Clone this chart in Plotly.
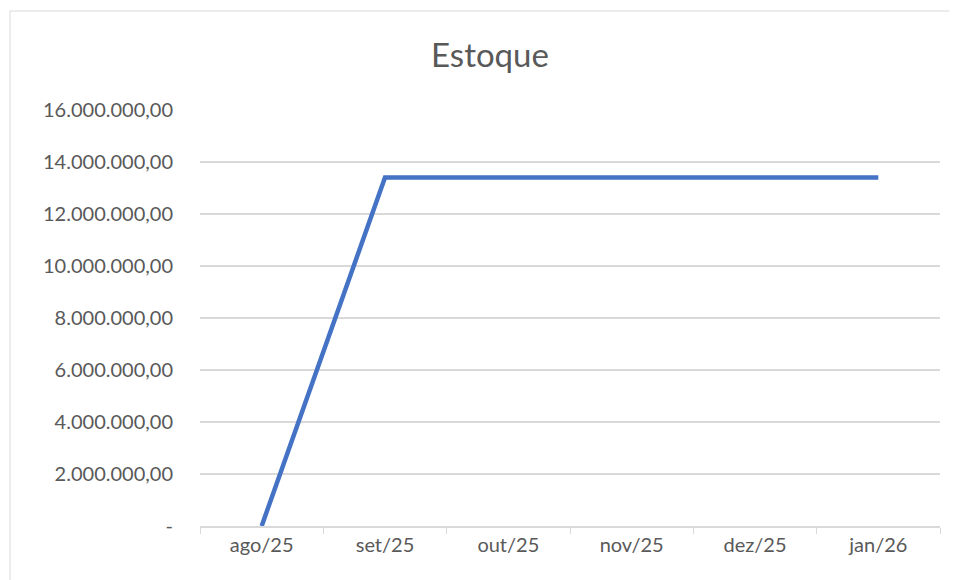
import plotly.graph_objects as go

meses = ["ago/25", "set/25", "out/25", "nov/25", "dez/25", "jan/26"]
estoque = [0, 13400000, 13400000, 13400000, 13400000, 13400000]

tick_vals = [0, 2000000, 4000000, 6000000, 8000000, 10000000, 12000000, 14000000, 16000000]


def fmt_br(v):
    if v == 0:
        return "-"
    s = f"{v:,.2f}"
    return s.replace(",", "X").replace(".", ",").replace("X", ".")


tick_text = [fmt_br(v) for v in tick_vals]

# the page body adds an 8px offset, so the figure is a bit smaller
OFF = 8
W, H = 957 - OFF, 580 - OFF
L, T = 200 - OFF, 110 - OFF
R = W - (940 - OFF)
B = H - (526 - OFF)
pw, ph = W - L - R, H - T - B

fig = go.Figure()
fig.add_trace(go.Scatter(
    x=meses, y=estoque, mode="lines",
    line=dict(color="#4472C4", width=4.5),
    hoverinfo="skip",
))

# chart area border (Excel style): only the left and top edges are in view
bx0 = (10 - OFF - L) / pw
bx1 = (W - L) / pw
by0 = -B / ph
by1 = 1 + (T - (11 - OFF)) / ph
for x0, y0, x1, y1 in [(bx0, by0, bx0, by1), (bx0, by1, bx1, by1)]:
    fig.add_shape(type="line", xref="paper", yref="paper",
                  x0=x0, y0=y0, x1=x1, y1=y1,
                  line=dict(color="#d9d9d9", width=1), layer="below")

fig.update_layout(
    width=W, height=H,
    margin=dict(l=L, r=R, t=T, b=B),
    paper_bgcolor="white", plot_bgcolor="white",
    font=dict(family="Lato, Open Sans, sans-serif", size=20, color="#595959"),
    title=dict(text="Estoque", x=(490 - OFF) / W, xanchor="center",
               y=1 - (55 - OFF) / H, yanchor="middle",
               font=dict(size=33, color="#595959")),
    showlegend=False,
    xaxis=dict(
        type="category", showgrid=False, showline=True, linecolor="#d9d9d9",
        linewidth=1.5, ticks="outside", ticklen=6, tickcolor="#d9d9d9",
        tickson="boundaries", range=[-0.5, 5.5], fixedrange=True,
    ),
    yaxis=dict(
        range=[0, 16000000], tickvals=tick_vals, ticktext=tick_text,
        showgrid=True, gridcolor="#d9d9d9", gridwidth=1.5,
        zeroline=False, showline=False, ticks="", ticklabelstandoff=26,
        fixedrange=True,
    ),
)

fig.write_html("out.html")
